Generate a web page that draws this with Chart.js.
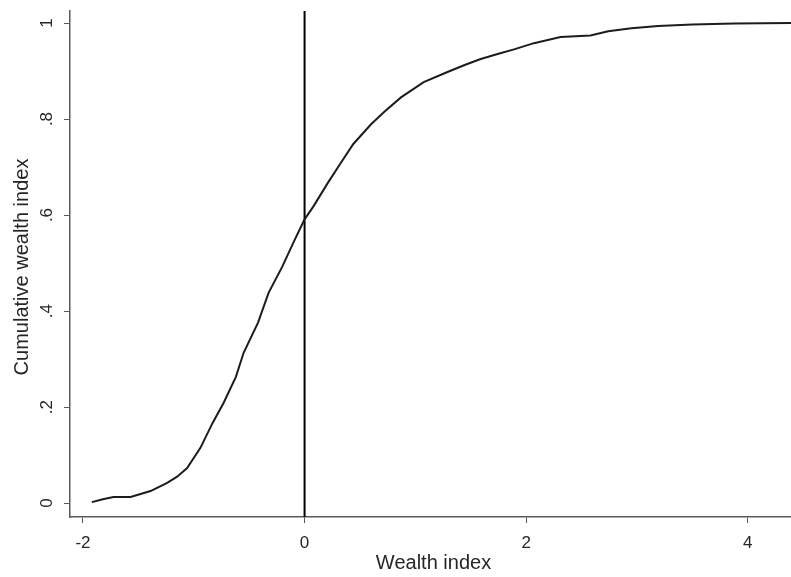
<!DOCTYPE html>
<html>
<head>
<meta charset="utf-8">
<script src="https://cdn.jsdelivr.net/npm/chart.js@4/dist/chart.umd.min.js"></script>
<style>
  html, body { margin: 0; padding: 0; background: #fff; }
  #wrap { width: 791px; height: 577px; }
</style>
</head>
<body>
<div id="wrap"><canvas id="cdfChart" width="791" height="577"></canvas></div>
<script>
// values
const wealthX = [-1.92, -1.82, -1.725, -1.57, -1.39, -1.24, -1.15, -1.06, -0.94, -0.83,
                 -0.73, -0.62, -0.55, -0.42, -0.325, -0.2, -0.1, 0, 0.08, 0.21,
                 0.325, 0.44, 0.6, 0.72, 0.87, 1.075, 1.29, 1.45, 1.59, 1.75,
                 1.89, 2.07, 2.31, 2.58, 2.74, 2.95, 3.19, 3.5, 3.88, 4.39];
const cumShare = [0.002, 0.008, 0.0125, 0.0125, 0.025, 0.042, 0.055, 0.073, 0.115, 0.167,
                  0.209, 0.263, 0.313, 0.376, 0.438, 0.493, 0.543, 0.591, 0.618, 0.667,
                  0.708, 0.748, 0.789, 0.815, 0.845, 0.877, 0.898, 0.913, 0.925, 0.936,
                  0.945, 0.958, 0.971, 0.974, 0.983, 0.989, 0.994, 0.997, 0.999, 1.0];
const refLineX = [0, 0];
const refLineY = [-0.05, 1.05];

const xTickVals = [-2, 0, 2, 4];
const xTickLabels = ['-2', '0', '2', '4'];
const yTickVals = [0, 0.2, 0.4, 0.6, 0.8, 1];
const yTickLabels = ['0', '.2', '.4', '.6', '.8', '1'];

const xTitle = 'Wealth index';
const yTitle = 'Cumulative wealth index';

const FONT = '"Liberation Sans", Arial, sans-serif';
const TEXT_COLOR = '#262626';
const AXIS_COLOR = '#5a5a5a';

// draws rotated y labels, x labels and both titles
const labelPlugin = {
    id: 'stataLabels',
    afterDraw(chart) {
        const ctx = chart.ctx;
        const xs = chart.scales.x, ys = chart.scales.y;
        const area = chart.chartArea;
        ctx.save();
        ctx.fillStyle = TEXT_COLOR;

        ctx.font = '17px ' + FONT;
        ctx.textAlign = 'center';
        ctx.textBaseline = 'alphabetic';
        xTickVals.forEach((v, i) => {
            ctx.fillText(xTickLabels[i], xs.getPixelForValue(v), 548);
        });

        yTickVals.forEach((v, i) => {
            ctx.save();
            ctx.translate(52, ys.getPixelForValue(v));
            ctx.rotate(-Math.PI / 2);
            ctx.fillText(yTickLabels[i], 0, 0);
            ctx.restore();
        });

        ctx.font = '20px ' + FONT;
        ctx.fillText(xTitle, (area.left + area.right) / 2 + 3, 569);

        ctx.save();
        ctx.translate(28, (area.top + area.bottom) / 2 + 3);
        ctx.rotate(-Math.PI / 2);
        ctx.fillText(yTitle, 0, 0);
        ctx.restore();

        ctx.restore();
    }
};

const ctx = document.getElementById('cdfChart').getContext('2d');
const cdfChart = new Chart(ctx, {
    type: 'line',
    data: {
        datasets: [
            {
                label: 'cdf',
                data: wealthX.map((x, i) => ({ x: x, y: cumShare[i] })),
                borderColor: '#1c1c1c',
                borderWidth: 2,
                pointRadius: 0,
                tension: 0,
                fill: false
            },
            {
                label: 'zero',
                data: refLineX.map((x, i) => ({ x: x, y: refLineY[i] })),
                borderColor: '#000',
                borderWidth: 2,
                pointRadius: 0,
                fill: false
            }
        ]
    },
    options: {
        responsive: false,
        animation: false,
        layout: { padding: { top: 11, left: 0, right: 0, bottom: 0 } },
        plugins: { legend: { display: false }, tooltip: { enabled: false } },
        scales: {
            x: {
                type: 'linear',
                min: -2.117,
                max: 4.39,
                afterBuildTicks: s => { s.ticks = xTickVals.map(v => ({ value: v })); },
                afterFit: s => { s.height = 60; },
                ticks: { display: false },
                grid: {
                    drawOnChartArea: false,
                    drawTicks: true,
                    tickLength: 6,
                    color: AXIS_COLOR,
                    lineWidth: 1
                },
                border: { display: true, color: AXIS_COLOR, width: 1.5 }
            },
            y: {
                type: 'linear',
                min: -0.029,
                max: 1.025,
                afterBuildTicks: s => { s.ticks = yTickVals.map(v => ({ value: v })); },
                afterFit: s => { s.width = 70; },
                ticks: { display: false },
                grid: {
                    drawOnChartArea: false,
                    drawTicks: true,
                    tickLength: 6,
                    color: AXIS_COLOR,
                    lineWidth: 1
                },
                border: { display: true, color: AXIS_COLOR, width: 1.5 }
            }
        }
    },
    plugins: [labelPlugin]
});
</script>
</body>
</html>
